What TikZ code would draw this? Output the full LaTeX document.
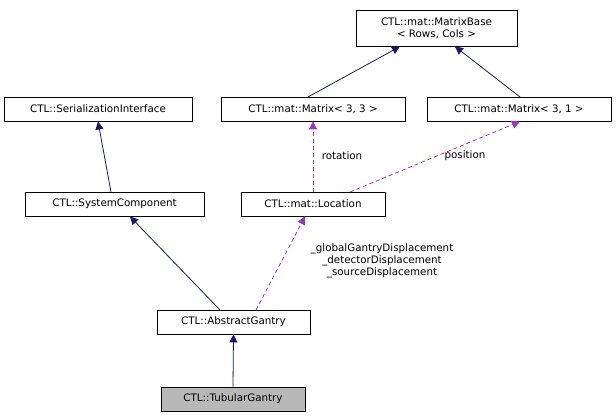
\documentclass[tikz,border=0pt]{standalone}
\usepackage{fontspec}
\setmainfont{DejaVu Sans}
\usetikzlibrary{arrows.meta}
\definecolor{inhc}{HTML}{191970}
\definecolor{usec}{HTML}{9A32CD}
\begin{document}
\begin{tikzpicture}[x=1pt,y=-1pt,line width=0.8pt,
  box/.style={draw=black,inner sep=0pt,font=\fontsize{10.3}{12.5}\selectfont,align=center},
  inh/.style={color=inhc,-{Triangle[length=8pt,width=8pt]}},
  use/.style={color=usec,dash pattern=on 4pt off 3pt,-{Triangle[length=8pt,width=8pt]}},
  lab/.style={font=\fontsize{10.3}{12}\selectfont,align=center}]
\useasboundingbox (0,0) rectangle (616,419);
\node[box,minimum width=161pt,minimum height=36pt] (mb) at (436.5,28) {CTL::mat::MatrixBase\\< Rows, Cols >};
\node[box,minimum width=188pt,minimum height=24pt] (si) at (98,109) {CTL::SerializationInterface};
\node[box,minimum width=184pt,minimum height=24pt] (m33) at (313,109) {CTL::mat::Matrix< 3, 3 >};
\node[box,minimum width=184pt,minimum height=24pt] (m31) at (519,109) {CTL::mat::Matrix< 3, 1 >};
\node[box,minimum width=179pt,minimum height=24pt] (sc) at (114.5,204) {CTL::SystemComponent};
\node[box,minimum width=144pt,minimum height=24pt] (loc) at (313,204) {CTL::mat::Location};
\node[box,minimum width=153pt,minimum height=24pt] (ag) at (233.5,322) {CTL::AbstractGantry};
\node[box,fill=black!28,minimum width=144pt,minimum height=24pt] (tg) at (233,399) {CTL::TubularGantry};
\coordinate (a1) at (400,46.5); \coordinate (b1) at (308,97);
\coordinate (a2) at (455,46.5); \coordinate (b2) at (520,97);
\coordinate (a3) at (98,121.5); \coordinate (b3) at (111,192);
\coordinate (a4) at (130,216.5); \coordinate (b4) at (220,310);
\coordinate (a5) at (305,216.5); \coordinate (b5) at (256,310);
\coordinate (a6) at (520,121.5); \coordinate (b6) at (350,192);
\draw[inh] (b1) -- (a1);
\draw[inh] (b2) -- (a2);
\draw[inh] (b3) -- (a3);
\draw[inh] (b4) -- (a4);
\draw[inh] (tg.north) -- (ag.south);
\draw[use] (b5) -- (a5);
\draw[use] (loc.north) -- (m33.south);
\draw[use] (b6) -- (a6);
\node[lab] (lr) at (342,156) {rotation};
\node[lab] (lp) at (465,156) {position};
\node[lab] (lg) at (382,261) {\_globalGantryDisplacement\\\_detectorDisplacement\\\_sourceDisplacement};
\end{tikzpicture}
\end{document}
